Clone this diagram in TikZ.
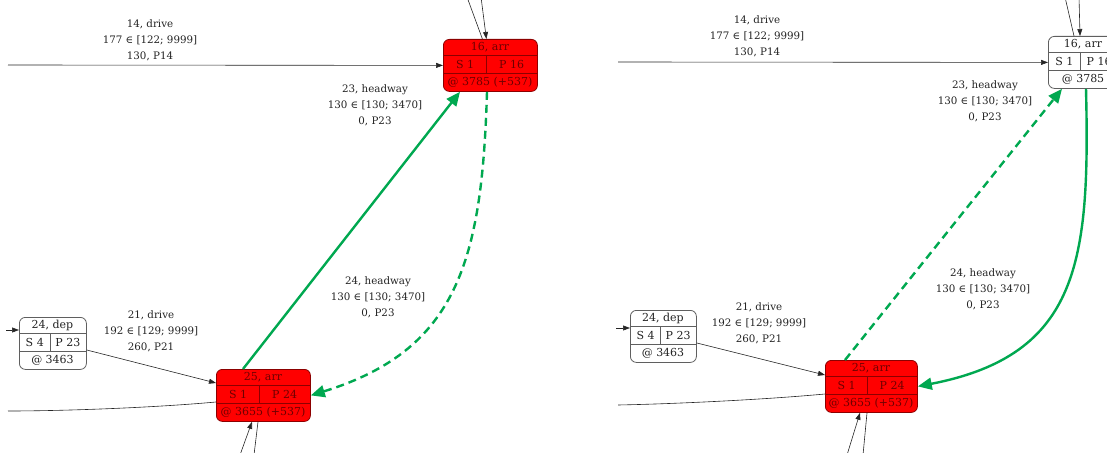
\documentclass[tikz,border=0pt]{standalone}
\usepackage{fontspec}
\setmainfont{DejaVu Serif}
\usetikzlibrary{arrows.meta,calc}

\definecolor{hwgreen}{RGB}{0,168,80}
\definecolor{hotred}{RGB}{255,0,0}
\definecolor{hotborder}{RGB}{140,0,0}
\definecolor{hottext}{RGB}{110,0,0}
\definecolor{plainborder}{RGB}{95,95,95}
\definecolor{plaintext}{RGB}{35,35,35}

\tikzset{
  rec/.style={draw, rounded corners=6pt, inner sep=0pt, line width=0.8pt},
  hot/.style={rec, fill=hotred, draw=hotborder},
  plain/.style={rec, fill=white, draw=plainborder},
  hot line/.style={draw=hotborder, line width=0.8pt},
  plain line/.style={draw=plainborder, line width=0.8pt},
  hot cell/.style={text=hottext},
  plain cell/.style={text=plaintext},
  cell/.style={inner sep=0pt, font=\fontsize{11}{13}\selectfont},
  edgelabel/.style={align=center, inner sep=0pt, font=\fontsize{10.3}{15.8}\selectfont, text=plaintext},
  flow/.style={draw=black!85, line width=0.6pt},
  flowarrow/.style={flow, -{Triangle[length=7pt,width=5pt]}},
  hw/.style={draw=hwgreen, line width=2.4pt, -{Triangle[length=14pt,width=12pt]}},
  hwdash/.style={hw, dash pattern=on 8pt off 5pt},
}

% record node: name, left x, top y, width, look, title, S cell, P cell, bottom cell
\newcommand\record[9]{%
  \node[#5, minimum width=#4, minimum height=52, anchor=north west] (#1) at (#2,#3) {};
  \draw[#5 line] ($(#1.north west)+(0,16)$) -- ($(#1.north east)+(0,16)$);
  \draw[#5 line] ($(#1.north west)+(0,34)$) -- ($(#1.north east)+(0,34)$);
  \draw[#5 line] ($(#1.north west)+({0.465*#4},16)$) -- ($(#1.north west)+({0.465*#4},34)$);
  \node[cell, #5 cell] (#1-t) at ($(#1.north west)+({0.5*#4},8)$) {#6};
  \node[cell, #5 cell] (#1-s) at ($(#1.north west)+({0.235*#4},25)$) {#7};
  \node[cell, #5 cell] (#1-p) at ($(#1.north west)+({0.73*#4},25)$) {#8};
  \node[cell, #5 cell] (#1-a) at ($(#1.north west)+({0.5*#4},43)$) {#9};
}

\begin{document}
\begin{tikzpicture}[x=1pt, y=-1pt]
\useasboundingbox (0,0) rectangle (1107,452);
\clip (0,0) rectangle (1107,452);

% ---------------- first schedule ----------------
\record{L16}{443}{39}{94}{hot}{16, arr}{S 1}{P 16}{@ 3785 (+537)}
\record{L25}{216}{369}{94}{hot}{25, arr}{S 1}{P 24}{@ 3655 (+537)}
\record{L24}{19}{317}{67}{plain}{24, dep}{S 4}{P 23}{@ 3463}

\coordinate (L-in14) at (8,65);
\coordinate (L-topout) at (467,-3);
\coordinate (L-topin) at (481,-3);
\coordinate (L-in24) at (6,330);
\coordinate (L-out25) at (8,411);
\coordinate (L-botin) at (240,455);
\coordinate (L-botout) at (254,455);

\draw[flowarrow] (L-in14) -- (L16.west);
\draw[flow] ($(L16.north)+(-8,0)$) -- (L-topout);
\draw[flowarrow] (L-topin) -- ($(L16.north)+(-4,0)$);
\draw[flowarrow] (L-in24) -- ($(L24.north west)+(0,13)$);
\draw[flowarrow] ($(L24.north east)+(0,33)$) -- ($(L25.north west)+(0,14)$);
\draw[flow] ($(L25.north west)+(0,33)$) .. controls (150,408) and (60,411) .. (L-out25);
\draw[flowarrow] (L-botin) -- ($(L25.south west)+(36,0)$);
\draw[flow] ($(L25.south west)+(42,0)$) -- (L-botout);

\draw[hw] ($(L25.north west)+(27,0)$) -- ($(L16.south west)+(17,0)$);
\draw[hwdash] ($(L16.south west)+(44,0)$) .. controls (482,260) and (458,350) .. (L25.east);

\node[edgelabel] (L-lab14) at (150,40) {14, drive\\177 ∈ [122; 9999]\\130, P14};
\node[edgelabel] (L-lab23) at (375,105) {23, headway\\130 ∈ [130; 3470]\\0, P23};
\node[edgelabel] (L-lab24) at (378,297) {24, headway\\130 ∈ [130; 3470]\\0, P23};
\node[edgelabel] (L-lab21) at (151,331) {21, drive\\192 ∈ [129; 9999]\\260, P21};

% ---------------- second schedule ----------------
\record{R16}{1048}{36}{70}{plain}{16, arr}{S 1}{P 16}{@ 3785}
\record{R25}{825}{360}{92}{hot}{25, arr}{S 1}{P 24}{@ 3655 (+537)}
\record{R24}{630}{310}{66}{plain}{24, dep}{S 4}{P 23}{@ 3463}

\coordinate (R-in14) at (618,62);
\coordinate (R-topout) at (1065,-3);
\coordinate (R-topin) at (1079,-3);
\coordinate (R-in24) at (616,328);
\coordinate (R-out25) at (618,405);
\coordinate (R-botin) at (847,455);
\coordinate (R-botout) at (863,455);

\draw[flowarrow] (R-in14) -- (R16.west);
\draw[flow] ($(R16.north west)+(26,0)$) -- (R-topout);
\draw[flowarrow] (R-topin) -- ($(R16.north west)+(32,0)$);
\draw[flowarrow] (R-in24) -- ($(R24.north west)+(0,18)$);
\draw[flowarrow] ($(R24.north east)+(0,33)$) -- ($(R25.north west)+(0,15)$);
\draw[flow] ($(R25.north west)+(0,34)$) .. controls (760,400) and (670,404) .. (R-out25);
\draw[flowarrow] (R-botin) -- ($(R25.south west)+(35,0)$);
\draw[flow] ($(R25.south west)+(42,0)$) -- (R-botout);

\draw[hwdash] ($(R25.north west)+(20,0)$) -- ($(R16.south west)+(14,0)$);
\draw[hw] ($(R16.south west)+(38,0)$) .. controls (1090,260) and (1080,355) .. (R25.east);

\node[edgelabel] (R-lab14) at (757,36) {14, drive\\177 ∈ [122; 9999]\\130, P14};
\node[edgelabel] (R-lab23) at (985,101) {23, headway\\130 ∈ [130; 3470]\\0, P23};
\node[edgelabel] (R-lab24) at (983,289) {24, headway\\130 ∈ [130; 3470]\\0, P23};
\node[edgelabel] (R-lab21) at (759,323) {21, drive\\192 ∈ [129; 9999]\\260, P21};
\end{tikzpicture}
\end{document}
